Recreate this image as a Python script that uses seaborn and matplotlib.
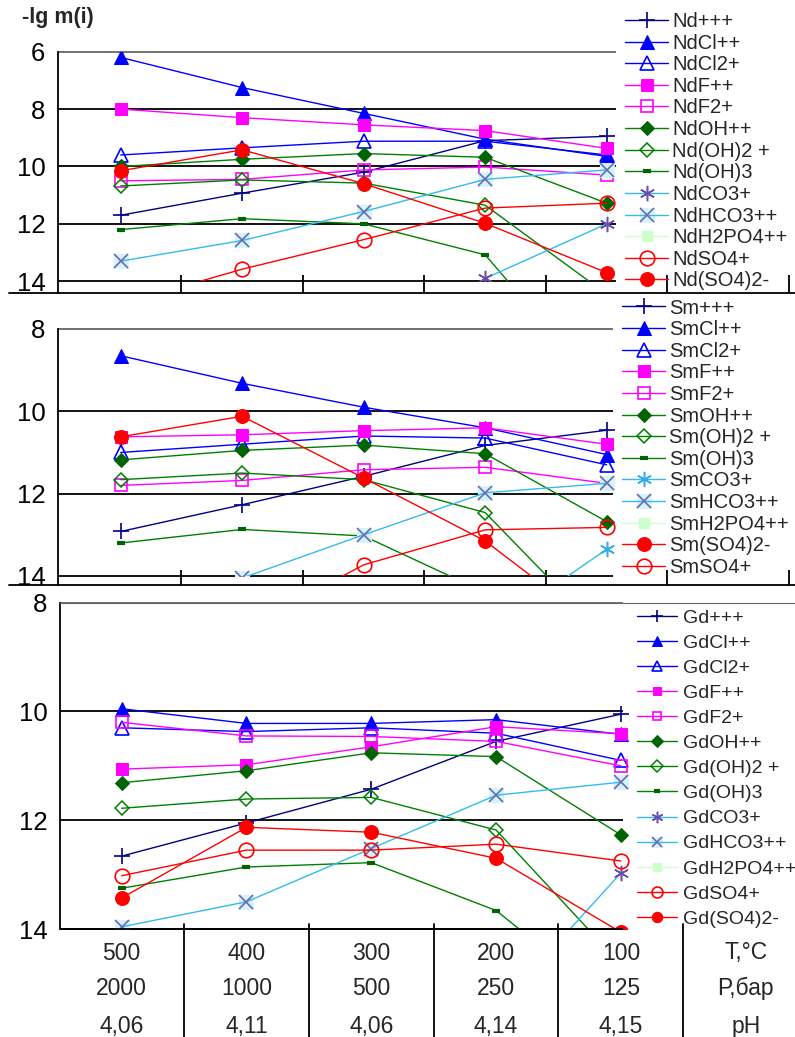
import numpy as np
import matplotlib
matplotlib.use("Agg")
import matplotlib.pyplot as plt
import seaborn as sns
from matplotlib.patches import Rectangle
from matplotlib.legend_handler import HandlerTuple

nan = np.nan

# x categories and the table under the chart
temps = ['500', '400', '300', '200', '100']
pressures = ['2000', '1000', '500', '250', '125']
ph_values = ['4,06', '4,11', '4,06', '4,14', '4,15']
row_titles = ['T,°C', 'P,бар', 'pH']

# -lg m(i), neodymium
nd_3plus = [11.7, 10.93, 10.2, 9.1, 8.95]
nd_cl = [6.2, 7.25, 8.15, 9.05, 9.65]
nd_cl2 = [9.6, 9.35, 9.12, 9.12, 9.6]
nd_f = [8.0, 8.3, 8.55, 8.75, 9.37]
nd_f2 = [10.5, 10.45, 10.12, 10.02, 10.3]
nd_oh = [10.0, 9.75, 9.55, 9.68, 11.28]
nd_oh2 = [10.68, 10.47, 10.58, 11.35, 14.45]
nd_oh3 = [12.2, 11.82, 12.0, 13.08, 18.0]
nd_co3 = [nan, nan, nan, 13.9, 12.0]
nd_hco3 = [13.3, 12.58, 11.57, 10.45, 10.12]
nd_h2po4 = [nan, nan, nan, nan, nan]
nd_so4 = [14.8, 13.58, 12.55, 11.45, 11.28]
nd_so4_2 = [10.15, 9.42, 10.6, 11.98, 13.7]

# samarium
sm_3plus = [12.92, 12.27, 11.58, 10.83, 10.46]
sm_cl = [8.65, 9.32, 9.9, 10.4, 11.05]
sm_cl2 = [11.0, 10.8, 10.6, 10.65, 11.3]
sm_f = [10.62, 10.57, 10.47, 10.4, 10.8]
sm_f2 = [11.8, 11.68, 11.42, 11.36, 11.75]
sm_oh = [11.18, 10.95, 10.82, 11.03, 12.68]
sm_oh2 = [11.66, 11.5, 11.66, 12.46, 15.5]
sm_oh3 = [13.2, 12.87, 13.03, 14.4, 16.0]
sm_co3 = [nan, nan, nan, 15.4, 13.35]
sm_hco3 = [15.0, 14.05, 13.0, 11.98, 11.75]
sm_h2po4 = [nan, nan, nan, nan, nan]
sm_so4_2 = [10.62, 10.12, 11.62, 13.15, 15.4]
sm_so4 = [nan, 15.3, 13.73, 12.88, 12.82]

# gadolinium
gd_3plus = [12.66, 12.05, 11.43, 10.55, 10.05]
gd_cl = [9.95, 10.22, 10.22, 10.15, 10.42]
gd_cl2 = [10.3, 10.37, 10.3, 10.4, 10.9]
gd_f = [11.06, 10.98, 10.65, 10.28, 10.41]
gd_f2 = [10.2, 10.45, 10.46, 10.55, 11.0]
gd_oh = [11.31, 11.09, 10.76, 10.83, 12.27]
gd_oh2 = [11.78, 11.61, 11.58, 12.18, 14.65]
gd_oh3 = [13.25, 12.86, 12.78, 13.66, 15.5]
gd_co3 = [nan, nan, nan, 15.5, 12.97]
gd_hco3 = [13.96, 13.5, 12.52, 11.54, 11.3]
gd_h2po4 = [nan, nan, nan, nan, nan]
gd_so4 = [13.02, 12.55, 12.55, 12.44, 12.75]
gd_so4_2 = [13.43, 12.13, 12.22, 12.7, 14.06]

sns.set_style("white")
plt.rcParams['font.family'] = ['Liberation Sans', 'DejaVu Sans']

NAVY, BLUE, MAG, GREEN, LBLUE, RED = '#000080', '#0000ff', '#ff00ff', '#008000', '#33bbee', '#ff0000'

# marker / colour for each kind of species
STYLE = {
    '3plus': dict(color=NAVY, marker='+', markersize=11, markeredgecolor=NAVY, markeredgewidth=1.2),
    'cl': dict(color=BLUE, marker='^', markersize=10, markerfacecolor=BLUE, markeredgecolor=BLUE),
    'cl2': dict(color=BLUE, marker='^', markersize=10, markerfacecolor='none', markeredgecolor=BLUE, markeredgewidth=1.2),
    'f': dict(color=MAG, marker='s', markersize=8.5, markerfacecolor=MAG, markeredgecolor=MAG),
    'f2': dict(color=MAG, marker='s', markersize=8.5, markerfacecolor='none', markeredgecolor=MAG, markeredgewidth=1.2),
    'oh': dict(color=GREEN, marker='D', markersize=7.5, markerfacecolor='#006400', markeredgecolor='#006400'),
    'oh2': dict(color=GREEN, marker='D', markersize=7.5, markerfacecolor='none', markeredgecolor=GREEN, markeredgewidth=1.1),
    'oh3': dict(color=GREEN, marker='_', markersize=6, markeredgecolor='#006400', markeredgewidth=3),
    'co3': dict(color=LBLUE, marker=(6, 2, 0), markersize=11, markeredgecolor='#6a4fb0', markeredgewidth=1.1),
    'hco3': dict(color=LBLUE, marker='x', markersize=10, markeredgecolor='#6a6ab0', markeredgewidth=1.2),
    'h2po4': dict(color='#ccffcc', marker='s', markersize=7, markerfacecolor='#ccffcc', markeredgecolor='#ccffcc'),
    'so4': dict(color=RED, marker='o', markersize=10.5, markerfacecolor='none', markeredgecolor=RED, markeredgewidth=1.2),
    'so4_2': dict(color=RED, marker='o', markersize=10, markerfacecolor=RED, markeredgecolor=RED),
}

W, H = 795, 1037
fig = plt.figure(figsize=(W / 100, H / 100), dpi=100)


def px_rect(left, top, right, bottom):
    return [left / W, 1 - bottom / H, (right - left) / W, (bottom - top) / H]


def draw_panel(ax, series, co3_color=None):
    xs = list(range(len(temps)))
    handles = []
    for key, vals in series:
        st = dict(STYLE[key])
        if key == 'co3' and co3_color:
            st['markeredgecolor'] = co3_color
        if np.all(np.isnan(vals)):
            line, = ax.plot(xs, vals, linewidth=1.0, **st)
            handles.append(line)
            continue
        halo = None
        if key == 'hco3':
            # pale cyan square behind the x marks
            n = len(ax.lines)
            sns.lineplot(x=xs, y=vals, ax=ax, estimator=None, linestyle='none', marker='s',
                         markersize=10, markerfacecolor='#d4f3fa', markeredgecolor='#d4f3fa', color='#d4f3fa')
            halo = ax.lines[n]
        n = len(ax.lines)
        sns.lineplot(x=xs, y=vals, ax=ax, estimator=None, linewidth=1.0, **st)
        line = ax.lines[n]
        handles.append((halo, line) if halo is not None else line)
    return handles


def style_axes(ax, xlim, ylim, yticks, grid_end, top_full=False):
    ax.set_xlim(*xlim)
    ax.set_ylim(*ylim)
    ax.set_yticks(yticks)
    ax.tick_params(axis='y', length=0, pad=9, labelsize=18.5, colors='black')
    ax.spines['right'].set_visible(False)
    ax.spines['left'].set_color('black')
    ax.spines['left'].set_linewidth(1.3)
    ax.spines['top'].set_visible(top_full)
    ax.spines['top'].set_color('#666666')
    # horizontal grid lines stop before the legend
    for i, v in enumerate(yticks):
        col = '#666666' if i == 0 else 'black'
        ax.hlines(v, xlim[0], grid_end, color=col, linewidth=1.3, clip_on=False, zorder=1)
    # clip data to the 6/8..14 range
    clip = Rectangle((xlim[0], min(yticks)), xlim[1] - xlim[0], max(yticks) - min(yticks),
                     transform=ax.transData, facecolor='none', edgecolor='none')
    ax.add_patch(clip)
    for ln in ax.lines:
        ln.set_clip_path(clip)


def upper_axis(ax, tick_len):
    ax.spines['bottom'].set_color('black')
    ax.spines['bottom'].set_linewidth(1.3)
    ax.set_xticks([0.5, 1.5, 2.5, 3.5, 4.5, 5.5])
    ax.set_xticklabels([])
    ax.tick_params(axis='x', direction='in', length=tick_len, width=1.3, colors='black', bottom=True)
    ax.plot([-49 / 737, 0], [0, 0], transform=ax.transAxes, color='black', linewidth=1.3, clip_on=False)


def add_legend(ax, handles, labels, x_px, top_px, fs, ls, hl, htp, mscale=1.0):
    ax.legend(handles, labels, loc='upper left', bbox_to_anchor=(x_px / W, 1 - top_px / H),
              bbox_transform=fig.transFigure, frameon=False, fontsize=fs, borderpad=0,
              borderaxespad=0, handlelength=hl, handletextpad=htp, labelspacing=ls,
              markerscale=mscale, handler_map={tuple: HandlerTuple(ndivide=1)})


# ---- Nd panel
x12 = (-0.516, 5.55)
ax1 = fig.add_axes(px_rect(58, 51.7, 795, 293))
h1 = draw_panel(ax1, [('3plus', nd_3plus), ('cl', nd_cl), ('cl2', nd_cl2), ('f', nd_f), ('f2', nd_f2),
                      ('oh', nd_oh), ('oh2', nd_oh2), ('oh3', nd_oh3), ('co3', nd_co3), ('hco3', nd_hco3),
                      ('h2po4', nd_h2po4), ('so4', nd_so4), ('so4_2', nd_so4_2)])
style_axes(ax1, x12, (14.41, 6), [6, 8, 10, 12, 14], 4.08)
upper_axis(ax1, 13)
nd_labels = ['Nd+++', 'NdCl++', 'NdCl2+', 'NdF++', 'NdF2+', 'NdOH++', 'Nd(OH)2 +', 'Nd(OH)3',
             'NdCO3+', 'NdHCO3++', 'NdH2PO4++', 'NdSO4+', 'Nd(SO4)2-']
add_legend(ax1, h1, nd_labels, 625, 12, 14.5, 0.13, 2.15, 0.2)

# ---- Sm panel
ax2 = fig.add_axes(px_rect(58, 329, 795, 585))
h2 = draw_panel(ax2, [('3plus', sm_3plus), ('cl', sm_cl), ('cl2', sm_cl2), ('f', sm_f), ('f2', sm_f2),
                      ('oh', sm_oh), ('oh2', sm_oh2), ('oh3', sm_oh3), ('co3', sm_co3), ('hco3', sm_hco3),
                      ('h2po4', sm_h2po4), ('so4_2', sm_so4_2), ('so4', sm_so4)], '#33aaee')
style_axes(ax2, x12, (14.22, 8), [8, 10, 12, 14], 4.05)
upper_axis(ax2, 11)
sm_labels = ['Sm+++', 'SmCl++', 'SmCl2+', 'SmF++', 'SmF2+', 'SmOH++', 'Sm(OH)2 +', 'Sm(OH)3',
             'SmCO3+', 'SmHCO3++', 'SmH2PO4++', 'Sm(SO4)2-', 'SmSO4+']
add_legend(ax2, h2, sm_labels, 622, 298.5, 14.5, 0.13, 2.15, 0.2)

# ---- Gd panel
x3 = (-0.494, 5.395)
ax3 = fig.add_axes(px_rect(60, 602.7, 795, 929))
h3 = draw_panel(ax3, [('3plus', gd_3plus), ('cl', gd_cl), ('cl2', gd_cl2), ('f', gd_f), ('f2', gd_f2),
                      ('oh', gd_oh), ('oh2', gd_oh2), ('oh3', gd_oh3), ('co3', gd_co3), ('hco3', gd_hco3),
                      ('h2po4', gd_h2po4), ('so4', gd_so4), ('so4_2', gd_so4_2)])
style_axes(ax3, x3, (14, 8), [8, 10, 12, 14], 4.02, top_full=True)
ax3.spines['bottom'].set_visible(False)
ax3.set_xticks([])
gd_labels = ['Gd+++', 'GdCl++', 'GdCl2+', 'GdF++', 'GdF2+', 'GdOH++', 'Gd(OH)2 +', 'Gd(OH)3',
             'GdCO3+', 'GdHCO3++', 'GdH2PO4++', 'GdSO4+', 'Gd(SO4)2-']
add_legend(ax3, h3, gd_labels, 637, 609, 14, 0.385, 2.05, 0.3, mscale=0.75)
ax3.hlines(14, x3[0], 4.02, color='black', linewidth=1.3, clip_on=False)

# table below the Gd panel
ax_h = 929 - 602.7
xt = ax3.get_xaxis_transform()
for xv in [0.5, 1.5, 2.5, 3.5, 4.5]:
    ax3.plot([xv, xv], [5 / ax_h, -(H - 929) / ax_h], transform=xt, color='black', linewidth=1.3, clip_on=False)
row_y = [(929 - 953) / ax_h, (929 - 988.5) / ax_h, (929 - 1026) / ax_h]
for ry, vals, title in zip(row_y, [temps, pressures, ph_values], row_titles):
    for i, v in enumerate(vals):
        ax3.text(i, ry, v, transform=xt, ha='center', va='center', fontsize=16.5)
    ax3.text(5, ry, title, transform=xt, ha='center', va='center', fontsize=16.5)

fig.text(22 / W, 1 - 17 / H, '-lg m(i)', fontsize=15.5, fontweight='bold', va='center', ha='left')

fig.savefig('out.png', dpi=100)
